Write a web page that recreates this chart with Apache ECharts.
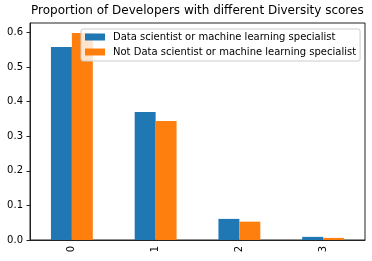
<!DOCTYPE html>
<html>
<head>
<meta charset="utf-8">
<script src="https://cdn.jsdelivr.net/npm/echarts@6/dist/echarts.min.js"></script>
<style>html,body{margin:0;padding:0;background:#fff;}#c{width:372px;height:261px;}</style>
</head>
<body>
<div id="c"></div>
<script>
var categories = ['0', '1', '2', '3'];
var seriesNames = ['Data scientist or machine learning specialist', 'Not Data scientist or machine learning specialist'];
var dataScientist = [0.558, 0.370, 0.061, 0.009];
var notDataScientist = [0.598, 0.344, 0.053, 0.006];
var yTicks = [0, 0.1, 0.2, 0.3, 0.4, 0.5, 0.6];

var font = 'DejaVu Sans';
var chart = echarts.init(document.getElementById('c'), null, {renderer: 'canvas'});
chart.setOption({
  animation: false,
  backgroundColor: '#fff',
  title: {
    text: 'Proportion of Developers with different Diversity scores',
    left: 31, top: 5, padding: 0,
    textStyle: {fontFamily: font, fontSize: 12, fontWeight: 'normal', color: '#000'}
  },
  legend: {
    orient: 'vertical',
    left: 81, top: 29,
    padding: [2, 4, 3, 4],
    itemGap: 3,
    itemWidth: 20, itemHeight: 7,
    icon: 'rect',
    backgroundColor: 'rgba(255,255,255,0.8)',
    borderColor: '#cccccc', borderWidth: 1, borderRadius: 2,
    textStyle: {fontFamily: font, fontSize: 10, color: '#000', lineHeight: 12, padding: [0, 0, 0, 3]},
    data: seriesNames
  },
  grid: {left: 30, right: 7, top: 23, bottom: 21, show: true, borderColor: '#222', borderWidth: 1, backgroundColor: 'transparent'},
  xAxis: {
    type: 'category',
    data: categories,
    axisLine: {lineStyle: {color: '#222', width: 1}},
    axisTick: {alignWithLabel: true, length: 3.5, lineStyle: {color: '#222'}},
    axisLabel: {rotate: 90, margin: 6, fontFamily: font, fontSize: 10, color: '#000'},
    splitLine: {show: false}
  },
  yAxis: {
    type: 'value',
    min: 0, max: 0.627, interval: 0.1,
    axisLine: {show: true, lineStyle: {color: '#222', width: 1}},
    axisTick: {show: true, length: 3.5, lineStyle: {color: '#222'}},
    axisLabel: {margin: 7, fontFamily: font, fontSize: 10, color: '#000',
      formatter: function (v) { return v.toFixed(1); },
      showMaxLabel: false},
    splitLine: {show: false}
  },
  series: [
    {name: seriesNames[0], type: 'bar', data: dataScientist, itemStyle: {color: '#1f77b4'}, barGap: '0%', barCategoryGap: '50%'},
    {name: seriesNames[1], type: 'bar', data: notDataScientist, itemStyle: {color: '#ff7f0e'}, barGap: '0%', barCategoryGap: '50%'}
  ]
});
</script>
</body>
</html>
